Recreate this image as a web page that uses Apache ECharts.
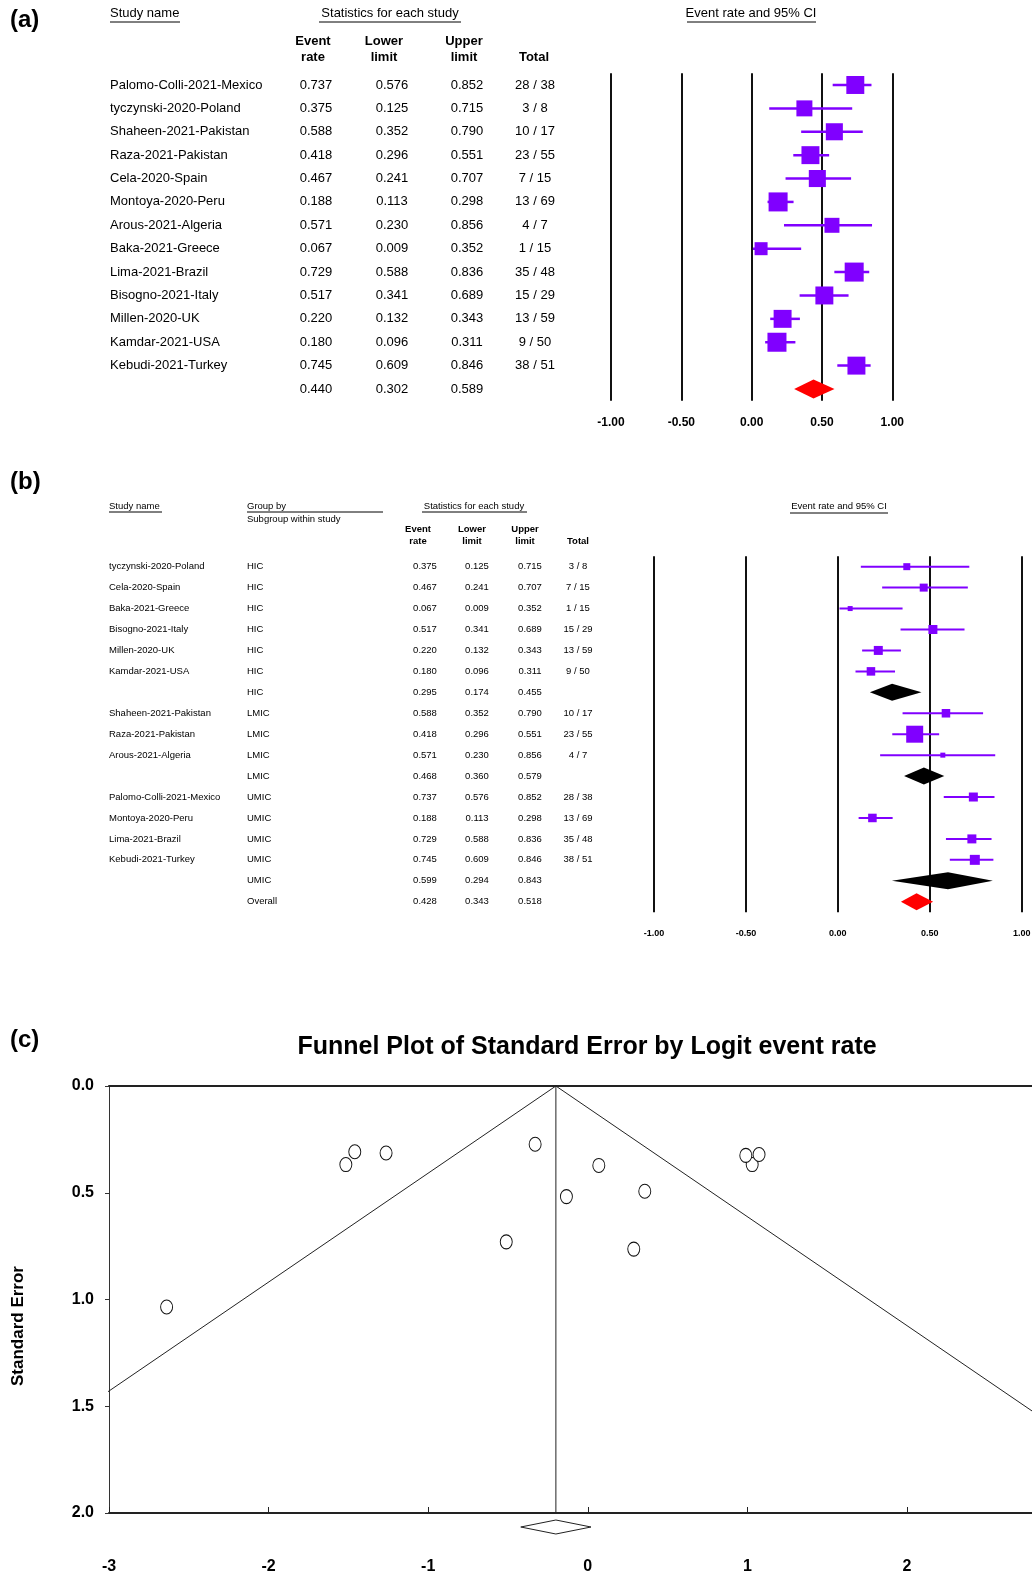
<!DOCTYPE html>
<html>
<head>
<meta charset="utf-8">
<style>
  html, body { margin: 0; padding: 0; background: #fff; }
  #main { width: 1032px; height: 1575px; }
</style>
<script src="https://cdn.jsdelivr.net/npm/echarts@6/dist/echarts.min.js"></script>
</head>
<body>
<div id="main"></div>
<script>
// ---------- (a) overall forest plot ----------
const studiesA = ['Palomo-Colli-2021-Mexico', 'tyczynski-2020-Poland', 'Shaheen-2021-Pakistan', 'Raza-2021-Pakistan',
  'Cela-2020-Spain', 'Montoya-2020-Peru', 'Arous-2021-Algeria', 'Baka-2021-Greece', 'Lima-2021-Brazil',
  'Bisogno-2021-Italy', 'Millen-2020-UK', 'Kamdar-2021-USA', 'Kebudi-2021-Turkey'];
const rateA = [0.737, 0.375, 0.588, 0.418, 0.467, 0.188, 0.571, 0.067, 0.729, 0.517, 0.220, 0.180, 0.745];
const lowerA = [0.576, 0.125, 0.352, 0.296, 0.241, 0.113, 0.230, 0.009, 0.588, 0.341, 0.132, 0.096, 0.609];
const upperA = [0.852, 0.715, 0.790, 0.551, 0.707, 0.298, 0.856, 0.352, 0.836, 0.689, 0.343, 0.311, 0.846];
const totalA = ['28 / 38', '3 / 8', '10 / 17', '23 / 55', '7 / 15', '13 / 69', '4 / 7', '1 / 15', '35 / 48',
  '15 / 29', '13 / 59', '9 / 50', '38 / 51'];
const weightA = [8.2, 6.5, 7.4, 8.2, 7.4, 9.2, 5.7, 4.3, 9.2, 8.2, 8.2, 9.2, 8.2];
const pooledA = [0.440, 0.302, 0.589];

// ---------- (b) subgroup forest plot (summary rows have no name) ----------
const namesB = ['tyczynski-2020-Poland', 'Cela-2020-Spain', 'Baka-2021-Greece', 'Bisogno-2021-Italy', 'Millen-2020-UK',
  'Kamdar-2021-USA', '', 'Shaheen-2021-Pakistan', 'Raza-2021-Pakistan', 'Arous-2021-Algeria', '',
  'Palomo-Colli-2021-Mexico', 'Montoya-2020-Peru', 'Lima-2021-Brazil', 'Kebudi-2021-Turkey', '', ''];
const groupB = ['HIC', 'HIC', 'HIC', 'HIC', 'HIC', 'HIC', 'HIC', 'LMIC', 'LMIC', 'LMIC', 'LMIC',
  'UMIC', 'UMIC', 'UMIC', 'UMIC', 'UMIC', 'Overall'];
const rateB = [0.375, 0.467, 0.067, 0.517, 0.220, 0.180, 0.295, 0.588, 0.418, 0.571, 0.468,
  0.737, 0.188, 0.729, 0.745, 0.599, 0.428];
const lowerB = [0.125, 0.241, 0.009, 0.341, 0.132, 0.096, 0.174, 0.352, 0.296, 0.230, 0.360,
  0.576, 0.113, 0.588, 0.609, 0.294, 0.343];
const upperB = [0.715, 0.707, 0.352, 0.689, 0.343, 0.311, 0.455, 0.790, 0.551, 0.856, 0.579,
  0.852, 0.298, 0.836, 0.846, 0.843, 0.518];
const totalB = ['3 / 8', '7 / 15', '1 / 15', '15 / 29', '13 / 59', '9 / 50', '', '10 / 17', '23 / 55', '4 / 7', '',
  '28 / 38', '13 / 69', '35 / 48', '38 / 51', '', ''];
// relative box weights; null marks a pooled (diamond) row
const weightB = [4.9, 6.4, 2.5, 8.1, 8.1, 7.3, null, 7.3, 28.9, 2.5, null, 8.1, 7.3, 8.1, 10.0, null, null];

// ---------- (c) funnel plot ----------
const logitC = [1.030, -0.511, 0.357, -0.330, -0.134, -1.460, 0.288, -2.639, 0.990, 0.069, -1.264, -1.516, 1.073];
const seC = [0.368, 0.730, 0.493, 0.273, 0.518, 0.308, 0.764, 1.035, 0.325, 0.372, 0.314, 0.368, 0.321];
const pooledC = [-0.2, -0.42, 0.02];
const funnelEdge = [[-4.12, 2.0], [-0.2, 0.0], [3.72, 2.0]];

const FONT = 'Liberation Sans, Arial, sans-serif';
const PURPLE = '#8000ff';

const chart = echarts.init(document.getElementById('main'));

function rowIdx(n) {
  return Array.from({ length: n }, (_, i) => String(i));
}

// a left-side category axis used only as a text column
function column(grid, data, offset, align, size, weight) {
  return {
    type: 'category', gridIndex: grid, data: data, inverse: true, position: 'left', offset: offset,
    axisLine: { show: false }, axisTick: { show: false }, splitLine: { show: false },
    axisLabel: { interval: 0, margin: 0, align: align, fontSize: size, fontWeight: weight || 'normal',
      color: '#000', fontFamily: FONT }
  };
}

function forestItem(lw, scale) {
  return function (params, api) {
    const p = api.coord([api.value(0), api.value(1)]);
    const l = api.coord([api.value(2), api.value(1)]);
    const h = api.coord([api.value(3), api.value(1)]);
    const s = Math.sqrt(api.value(4)) * scale;
    return {
      type: 'group', children: [
        { type: 'line', shape: { x1: l[0], y1: p[1], x2: h[0], y2: p[1] }, style: { stroke: PURPLE, lineWidth: lw } },
        { type: 'rect', shape: { x: p[0] - s / 2, y: p[1] - s / 2, width: s, height: s }, style: { fill: PURPLE } }
      ]
    };
  };
}

function diamondItem(hgt) {
  return function (params, api) {
    const p = api.coord([api.value(0), api.value(1)]);
    const l = api.coord([api.value(2), api.value(1)]);
    const h = api.coord([api.value(3), api.value(1)]);
    return {
      type: 'polygon',
      shape: { points: [[l[0], p[1]], [p[0], p[1] - hgt / 2], [h[0], p[1]], [p[0], p[1] + hgt / 2]] },
      style: { fill: api.value(4) === 1 ? '#ff0000' : '#000' }
    };
  };
}

const studyRowsB = [], poolRowsB = [];
rateB.forEach((v, i) => {
  if (weightB[i] === null) poolRowsB.push([v, i, lowerB[i], upperB[i], i === rateB.length - 1 ? 1 : 0]);
  else studyRowsB.push([v, i, lowerB[i], upperB[i], weightB[i]]);
});

function txt(x, y, s, size, opts) {
  opts = opts || {};
  return Object.assign({ type: 'text', x: x, y: y }, opts.el || {}, {
    style: { text: s, fontSize: size, fontFamily: FONT, fill: '#000', verticalAlign: 'middle',
      align: opts.align || 'left', fontWeight: opts.bold ? 'bold' : 'normal' }
  });
}
function rule(x1, x2, y) {
  return { type: 'line', shape: { x1: x1, y1: y, x2: x2, y2: y }, style: { stroke: '#000', lineWidth: 1 } };
}

const labelA = studiesA.concat(['']);
const tickLabelX = (v) => v.toFixed(2);

const option = {
  animation: false,
  backgroundColor: '#fff',
  grid: [
    { left: 611, top: 73.3, width: 281.3, height: 327.4, outerBoundsMode: 'none' },
    { left: 654, top: 556.2, width: 367.7, height: 356, outerBoundsMode: 'none' },
    { left: 109, top: 1086, width: 957.6, height: 427, outerBoundsMode: 'none' }
  ],
  xAxis: [
    { type: 'value', gridIndex: 0, min: -1, max: 1, interval: 0.5,
      axisLine: { show: false }, axisTick: { show: false },
      splitLine: { show: true, lineStyle: { color: '#111', width: 2 } },
      axisLabel: { formatter: tickLabelX, fontSize: 12, fontWeight: 'bold', color: '#000', margin: 16, fontFamily: FONT } },
    { type: 'value', gridIndex: 1, min: -1, max: 1, interval: 0.5,
      axisLine: { show: false }, axisTick: { show: false },
      splitLine: { show: true, lineStyle: { color: '#111', width: 2 } },
      axisLabel: { formatter: tickLabelX, fontSize: 9, fontWeight: 'bold', color: '#000', margin: 17, fontFamily: FONT } },
    { type: 'value', gridIndex: 2, min: -3, max: 3, interval: 1,
      axisLine: { show: true, onZero: false, lineStyle: { color: '#222', width: 2 } },
      axisTick: { show: true, inside: true, length: 6, lineStyle: { color: '#222' } },
      splitLine: { show: false },
      axisLabel: { fontSize: 16, fontWeight: 'bold', color: '#000', margin: 46, fontFamily: FONT } },
    { type: 'value', gridIndex: 2, position: 'top', min: -3, max: 3, interval: 1,
      axisLine: { show: true, onZero: false, lineStyle: { color: '#222', width: 2 } },
      axisTick: { show: false }, axisLabel: { show: false }, splitLine: { show: false } }
  ],
  yAxis: [
    // (a)
    { type: 'category', gridIndex: 0, data: rowIdx(14), inverse: true, show: false },
    column(0, labelA, 501, 'left', 13),
    column(0, rateA.concat([pooledA[0]]).map(v => v.toFixed(3)), 295, 'center', 13),
    column(0, lowerA.concat([pooledA[1]]).map(v => v.toFixed(3)), 219, 'center', 13),
    column(0, upperA.concat([pooledA[2]]).map(v => v.toFixed(3)), 144, 'center', 13),
    column(0, totalA.concat(['']), 76, 'center', 13),
    // (b)
    { type: 'category', gridIndex: 1, data: rowIdx(17), inverse: true, show: false },
    column(1, namesB, 545, 'left', 9.5),
    column(1, groupB, 407, 'left', 9.5),
    column(1, rateB.map(v => v.toFixed(3)), 229, 'center', 9.5),
    column(1, lowerB.map(v => v.toFixed(3)), 177, 'center', 9.5),
    column(1, upperB.map(v => v.toFixed(3)), 124, 'center', 9.5),
    column(1, totalB, 76, 'center', 9.5),
    // (c)
    { type: 'value', gridIndex: 2, min: 0, max: 2, interval: 0.5, inverse: true,
      axisLine: { show: true, onZero: false, lineStyle: { color: '#333', width: 1 } },
      axisTick: { show: true, length: 4, lineStyle: { color: '#333' } },
      splitLine: { show: false },
      axisLabel: { formatter: (v) => v.toFixed(1), fontSize: 16, fontWeight: 'bold', color: '#000', margin: 15,
        fontFamily: FONT } }
  ],
  series: [
    { type: 'custom', xAxisIndex: 0, yAxisIndex: 0, renderItem: forestItem(2.5, 6.27),
      encode: { x: [0, 2, 3], y: 1 },
      data: rateA.map((v, i) => [v, i, lowerA[i], upperA[i], weightA[i]]) },
    { type: 'custom', xAxisIndex: 0, yAxisIndex: 0, renderItem: diamondItem(19),
      encode: { x: [0, 2, 3], y: 1 },
      data: [[pooledA[0], 13, pooledA[1], pooledA[2], 1]] },
    { type: 'custom', xAxisIndex: 1, yAxisIndex: 6, renderItem: forestItem(2, 3.16),
      encode: { x: [0, 2, 3], y: 1 }, data: studyRowsB },
    { type: 'custom', xAxisIndex: 1, yAxisIndex: 6, renderItem: diamondItem(17),
      encode: { x: [0, 2, 3], y: 1 }, data: poolRowsB },
    // funnel
    { type: 'line', xAxisIndex: 2, yAxisIndex: 13, data: funnelEdge, symbol: 'none', clip: true,
      lineStyle: { color: '#222', width: 1 } },
    { type: 'line', xAxisIndex: 2, yAxisIndex: 13, data: [[pooledC[0], 0], [pooledC[0], 2]], symbol: 'none',
      lineStyle: { color: '#222', width: 1 } },
    { type: 'scatter', xAxisIndex: 2, yAxisIndex: 13, symbol: 'circle', symbolSize: [12, 14],
      itemStyle: { color: '#fff', borderColor: '#111', borderWidth: 1, opacity: 1 },
      data: logitC.map((v, i) => [v, seC[i]]) },
    { type: 'custom', xAxisIndex: 2, yAxisIndex: 13, clip: false,
      data: [[pooledC[0], 2, pooledC[1], pooledC[2]]],
      encode: { x: [0, 2, 3], y: 1 },
      renderItem: function (params, api) {
        const p = api.coord([api.value(0), api.value(1)]);
        const l = api.coord([api.value(2), api.value(1)]);
        const h = api.coord([api.value(3), api.value(1)]);
        const cy = p[1] + 14;
        return { type: 'polygon',
          shape: { points: [[l[0], cy], [p[0], cy - 7], [h[0], cy], [p[0], cy + 7]] },
          style: { fill: 'none', stroke: '#222', lineWidth: 1 } };
      } }
  ],
  graphic: [
    // (a) header
    txt(10, 20, '(a)', 24, { bold: true }),
    txt(110, 13, 'Study name', 13), rule(110, 180, 22),
    txt(390, 13, 'Statistics for each study', 13, { align: 'center' }), rule(319, 461, 22),
    txt(751, 13, 'Event rate and 95% CI', 13, { align: 'center' }), rule(687, 816, 22),
    txt(313, 41, 'Event', 13, { bold: true, align: 'center' }), txt(313, 57, 'rate', 13, { bold: true, align: 'center' }),
    txt(384, 41, 'Lower', 13, { bold: true, align: 'center' }), txt(384, 57, 'limit', 13, { bold: true, align: 'center' }),
    txt(464, 41, 'Upper', 13, { bold: true, align: 'center' }), txt(464, 57, 'limit', 13, { bold: true, align: 'center' }),
    txt(534, 57, 'Total', 13, { bold: true, align: 'center' }),
    // (b) header
    txt(10, 482, '(b)', 24, { bold: true }),
    txt(109, 506, 'Study name', 9.5), rule(109, 162, 512),
    txt(247, 506, 'Group by', 9.5), rule(247, 383, 512),
    txt(247, 519, 'Subgroup within study', 9.5),
    txt(474, 506, 'Statistics for each study', 9.5, { align: 'center' }), rule(422, 527, 512),
    txt(839, 506, 'Event rate and 95% CI', 9.5, { align: 'center' }), rule(790, 888, 513),
    txt(418, 529, 'Event', 9.5, { bold: true, align: 'center' }), txt(418, 541, 'rate', 9.5, { bold: true, align: 'center' }),
    txt(472, 529, 'Lower', 9.5, { bold: true, align: 'center' }), txt(472, 541, 'limit', 9.5, { bold: true, align: 'center' }),
    txt(525, 529, 'Upper', 9.5, { bold: true, align: 'center' }), txt(525, 541, 'limit', 9.5, { bold: true, align: 'center' }),
    txt(578, 541, 'Total', 9.5, { bold: true, align: 'center' }),
    // (c) header
    txt(10, 1040, '(c)', 24, { bold: true }),
    txt(587, 1047, 'Funnel Plot of Standard Error by Logit event rate', 25, { bold: true, align: 'center' }),
    txt(18, 1326, 'Standard Error', 17, { bold: true, align: 'center', el: { rotation: Math.PI / 2 } })
  ]
};

chart.setOption(option);
window.addEventListener('resize', () => chart.resize());
</script>
</body>
</html>
